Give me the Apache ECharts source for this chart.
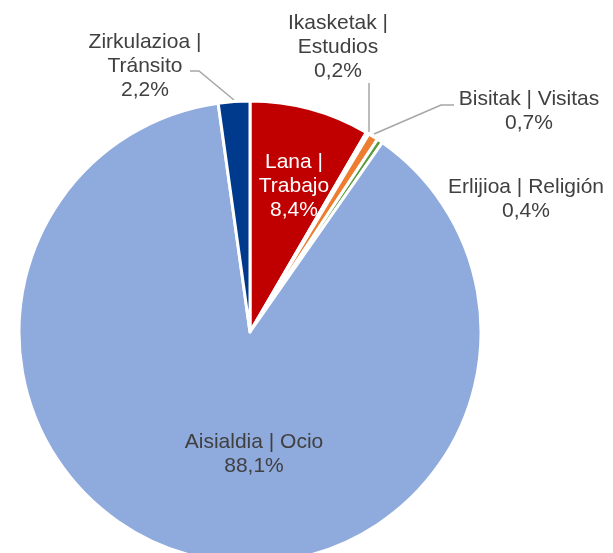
<!DOCTYPE html>
<html>
<head>
<meta charset="utf-8">
<script src="https://cdn.jsdelivr.net/npm/echarts@6/dist/echarts.min.js"></script>
<style>
  html, body { margin: 0; padding: 0; background: #fff; }
  #chart { width: 613px; height: 553px; }
</style>
</head>
<body>
<div id="chart"></div>
<script>
// categories, clockwise from 12 o'clock
const categories = [
  "Lana |\nTrabajo",
  "Ikasketak |\nEstudios",
  "Bisitak | Visitas",
  "Erlijioa | Religión",
  "Aisialdia | Ocio",
  "Zirkulazioa |\nTránsito",
];
const shares = [8.4, 0.2, 0.7, 0.4, 88.1, 2.2];
const colors = ["#C00000", "#FFC000", "#ED7D31", "#5B9B3B", "#8FAADC", "#003A8C"];

// label placement per slice (centre of text block) and leader line points
const labelSpots = [
  { x: 294, y: 186, line: null },
  { x: 338, y: 47, line: [[369, 83], [369, 107], [369, 132]] },
  { x: 529, y: 111, line: [[374, 134], [441, 105], [454, 105]] },
  { x: 526, y: 199, line: null },
  { x: 254, y: 454, line: null },
  { x: 145, y: 66, line: [[190, 71], [199, 71], [234, 100]] },
];

const chart = echarts.init(document.getElementById("chart"));

const pieData = categories.map((name, i) => ({
  name,
  value: shares[i],
  itemStyle: { color: colors[i] },
  label: { color: i === 0 ? "#ffffff" : "#404040" },
  labelLine: { show: !!labelSpots[i].line },
}));

chart.setOption({
  animation: false,
  series: [
    {
      type: "pie",
      center: [250, 332],
      radius: 231,
      startAngle: 90,
      clockwise: true,
      avoidLabelOverlap: false,
      itemStyle: { borderColor: "#ffffff", borderWidth: 3 },
      label: {
        show: true,
        position: "outside",
        fontFamily: "Liberation Sans, Arial, sans-serif",
        fontSize: 21,
        lineHeight: 24,
        align: "center",
        formatter: (p) => p.name + "\n" + p.value.toFixed(1).replace(".", ",") + "%",
      },
      labelLine: {
        lineStyle: { color: "#A6A6A6", width: 1.5 },
      },
      labelLayout: (params) => {
        const s = labelSpots[params.dataIndex];
        const out = { x: s.x, y: s.y, align: "center", verticalAlign: "middle" };
        if (s.line) out.labelLinePoints = s.line;
        return out;
      },
      data: pieData,
    },
  ],
});
</script>
</body>
</html>
